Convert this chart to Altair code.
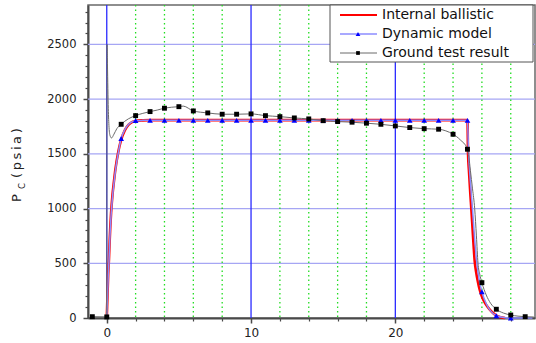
import altair as alt
import pandas as pd

# Internal ballistic prediction: time (s), chamber pressure (psia)
ib_t = [0, 0.05, 0.1, 0.15, 0.2, 0.3, 0.4, 0.5, 0.6, 0.8, 1.0, 1.25, 1.5, 1.75, 2.0, 2.5, 3.0,
        25.0, 25.04, 25.1, 25.2, 25.27, 25.35, 25.43, 25.5, 25.6, 25.7, 25.85, 26.0, 26.2,
        26.4, 26.7, 27.0, 27.3, 27.6]
ib_p = [0, 200, 400, 530, 700, 960, 1130, 1250, 1360, 1520, 1630, 1715, 1765, 1790, 1800, 1806, 1808,
        1808, 1500, 1350, 1130, 990, 820, 650, 520, 420, 345, 256, 195, 140,
        100, 55, 22, 6, 0]

# Dynamic model curve
dm_t = [0, 0.05, 0.1, 0.15, 0.2, 0.3, 0.4, 0.5, 0.6, 0.8, 1.0, 1.25, 1.5, 1.75, 2.0, 2.5, 3.0,
        25.0, 25.08, 25.2, 25.35, 25.5, 25.65, 25.8, 26.0, 26.3, 26.6, 27.0, 27.5, 28.0, 29.5]
dm_p = [0, 190, 380, 510, 680, 940, 1110, 1235, 1345, 1510, 1640, 1720, 1768, 1792, 1802, 1806, 1808,
        1808, 1500, 1250, 990, 720, 500, 360, 240, 130, 65, 21, 5, 0, 0]

# Dynamic model sample points
dm_mark_t = [1, 2, 3, 4, 5, 6, 7, 8, 9, 10, 11, 12, 13, 14, 15, 16, 17, 18, 19, 20,
             21, 22, 23, 24, 25, 26, 27, 28]
dm_mark_p = [1640, 1805, 1806, 1806, 1806, 1806, 1806, 1806, 1806, 1806, 1806, 1806, 1806, 1806,
             1806, 1806, 1806, 1806, 1806, 1806, 1806, 1806, 1806, 1806, 1806, 240, 21, 0]

# Ground test record (dense trace)
gt_t = [-1.0, 0.0, 0.02, 0.04, 0.07, 0.1, 0.15, 0.22, 0.33, 0.5, 0.7, 1.0, 1.5, 2.0, 2.5, 3.0,
        3.5, 4.0, 4.5, 5.0, 5.3, 6.0, 7.0, 8.0, 9.0, 10.0, 11.0, 12.0, 13.0, 14.0, 15.0, 16.0,
        17.0, 18.0, 19.0, 20.0, 21.0, 22.0, 23.0, 23.5, 24.0, 24.5, 25.0, 25.1, 25.2, 25.35,
        25.5, 25.62, 25.73, 25.85, 26.0, 26.3, 26.6, 27.0, 27.5, 28.0, 28.5, 29.0, 29.6]
gt_p = [12, 10, 2500, 2380, 2150, 1950, 1760, 1670, 1645, 1680, 1730, 1770, 1820, 1849, 1870, 1886,
        1900, 1917, 1926, 1931, 1936, 1892, 1874, 1862, 1862, 1865, 1849, 1840, 1828, 1819, 1803, 1795,
        1789, 1780, 1770, 1755, 1740, 1730, 1725, 1710, 1679, 1628, 1542, 1470, 1350, 1180,
        1000, 750, 500, 400, 323, 210, 135, 80, 45, 27, 17, 12, 9]

# Ground test sample points
gt_mark_t = [-1, 0, 1, 2, 3, 4, 5, 6, 7, 8, 9, 10, 11, 12, 13, 14, 15, 16, 17, 18, 19, 20,
             21, 22, 23, 24, 25, 26, 27, 28, 29]
gt_mark_p = [12, 10, 1770, 1849, 1886, 1917, 1931, 1892, 1874, 1862, 1862, 1865, 1849, 1840,
             1828, 1819, 1803, 1795, 1789, 1780, 1770, 1755, 1740, 1730, 1725, 1679, 1542, 323,
             80, 27, 12]

series_names = ["Internal ballistic", "Dynamic model", "Ground test result"]

x_major = [0, 10, 20]
x_minor = [2, 4, 6, 8, 12, 14, 16, 18, 22, 24, 26, 28]
y_grid = [500, 1000, 1500, 2000, 2500]
y_labels = [0, 500, 1000, 1500, 2000, 2500]
y_minor = [100, 200, 300, 400, 600, 700, 800, 900, 1100, 1200, 1300, 1400, 1600, 1700, 1800,
           1900, 2100, 2200, 2300, 2400, 2600, 2700, 2800]

FONT = "DejaVu Sans"
W, H = 447, 313
xs = alt.Scale(domain=[-1.3, 29.68], nice=False, zero=False)
ys = alt.Scale(domain=[0, 2860], nice=False, zero=False)
AXIS_COLOR = "#4a4a4a"


def df(t, p):
    return pd.DataFrame({"t": t, "p": p})


def X(axis=None):
    return alt.X("t:Q", scale=xs, axis=axis)


def Y(axis=None):
    return alt.Y("p:Q", scale=ys, axis=axis)


main_x_axis = alt.Axis(values=x_major, title=None, grid=False, tickSize=5, tickWidth=1.5,
                       tickColor=AXIS_COLOR, domainColor=AXIS_COLOR, domainWidth=2,
                       labelFont=FONT, labelFontSize=12, labelColor="#222", labelPadding=4,
                       labelFlush=False, format="d", orient="bottom")
main_y_axis = alt.Axis(values=y_labels, title=None, grid=False, tickSize=5, tickWidth=1.5,
                       tickColor=AXIS_COLOR, domainColor=AXIS_COLOR, domainWidth=2,
                       labelFont=FONT, labelFontSize=11.5, labelColor="#222", labelPadding=7,
                       labelFlush=False, format="d", orient="left")
minor_x_axis = alt.Axis(values=x_minor, title=None, grid=False, labels=False, domain=False,
                        tickSize=3, tickWidth=1.2, tickColor=AXIS_COLOR, orient="bottom")
minor_y_axis = alt.Axis(values=y_minor, title=None, grid=False, labels=False, domain=False,
                        tickSize=3, tickWidth=1.2, tickColor=AXIS_COLOR, orient="left")

# grid lines
grid_y = alt.Chart(pd.DataFrame({"p": y_grid})).mark_rule(
    color="#a6a6f4", strokeWidth=1.2).encode(y=Y(main_y_axis))
grid_minor = alt.Chart(pd.DataFrame({"t": x_minor})).mark_rule(
    color="#22dd22", strokeWidth=1.3, strokeDash=[1.5, 3]).encode(x=X(minor_x_axis))
grid_major = alt.Chart(pd.DataFrame({"t": x_major})).mark_rule(
    color="#2a2aff", strokeWidth=1.3).encode(x=X(main_x_axis))
minor_y_holder = alt.Chart(pd.DataFrame({"p": [0]})).mark_rule(opacity=0).encode(y=Y(minor_y_axis))

# curves
ib_line = alt.Chart(df(ib_t, ib_p)).mark_line(
    color="#ff0000", strokeWidth=2.6, interpolate="monotone").encode(x=X(), y=Y())
dm_line = alt.Chart(df(dm_t, dm_p)).mark_line(
    color="#8c8cff", strokeWidth=1.5, interpolate="monotone").encode(x=X(), y=Y())
gt_line = alt.Chart(df(gt_t, gt_p)).mark_line(
    color="#6a6a6a", strokeWidth=1.0, interpolate="monotone").encode(x=X(), y=Y())
dm_pts = alt.Chart(df(dm_mark_t, dm_mark_p)).mark_point(
    shape="triangle-up", filled=True, color="#0000ff", size=32, opacity=1).encode(x=X(), y=Y())
gt_pts = alt.Chart(df(gt_mark_t, gt_mark_p)).mark_square(
    color="#000000", size=24, opacity=1).encode(x=X(), y=Y())

# legend box
one = pd.DataFrame({"k": [0]})
LX0, LX1, LY0, LY1 = 242, 445, 0, 57
rows_y = [10, 29, 48]
leg = [alt.Chart(one).mark_rect(fill="white", stroke="#555555", strokeWidth=1).encode(
    x=alt.value(LX0), x2=alt.value(LX1), y=alt.value(LY0), y2=alt.value(LY1))]
leg_colors = ["#ff0000", "#8c8cff", "#6a6a6a"]
leg_widths = [2.2, 1.5, 1.0]
for name, ry, c, w in zip(series_names, rows_y, leg_colors, leg_widths):
    leg.append(alt.Chart(one).mark_rule(color=c, strokeWidth=w).encode(
        x=alt.value(252), x2=alt.value(289), y=alt.value(ry)))
    leg.append(alt.Chart(one).mark_text(
        text=name, font=FONT, fontSize=14, align="left", baseline="middle", color="#111").encode(
        x=alt.value(294), y=alt.value(ry)))
leg.append(alt.Chart(one).mark_point(shape="triangle-up", filled=True, color="#0000ff", size=22,
                                     opacity=1).encode(x=alt.value(270), y=alt.value(rows_y[1])))
leg.append(alt.Chart(one).mark_square(color="#000000", size=14, opacity=1).encode(
    x=alt.value(270), y=alt.value(rows_y[2])))

# y axis title: P with subscript C
ytitle = [
    alt.Chart(one).mark_text(text="P", font=FONT, fontSize=13, angle=270, align="left",
                             baseline="alphabetic", color="#222").encode(
        x=alt.value(-67), y=alt.value(197)),
    alt.Chart(one).mark_text(text="C", font=FONT, fontSize=8.5, angle=270, align="left",
                             baseline="alphabetic", color="#222").encode(
        x=alt.value(-63), y=alt.value(184)),
    alt.Chart(one).mark_text(text="(\u2009p\u2009s\u2009i\u2009a\u2009)", font=FONT, fontSize=13,
                             angle=270, align="left", baseline="alphabetic", color="#222").encode(
        x=alt.value(-67), y=alt.value(173)),
]

chart = alt.layer(
    grid_y, grid_minor, grid_major, minor_y_holder,
    ib_line, dm_line, gt_line, dm_pts, gt_pts,
    *leg, *ytitle,
).resolve_axis(x="independent", y="independent").properties(
    width=W, height=H,
    autosize=alt.AutoSizeParams(type="none"),
    padding={"left": 88, "top": 5, "right": 1, "bottom": 25},
).configure_view(stroke="#6a6a6a", strokeWidth=1.5)

chart.save("out.html", embed_options={"renderer": "svg", "actions": False})
